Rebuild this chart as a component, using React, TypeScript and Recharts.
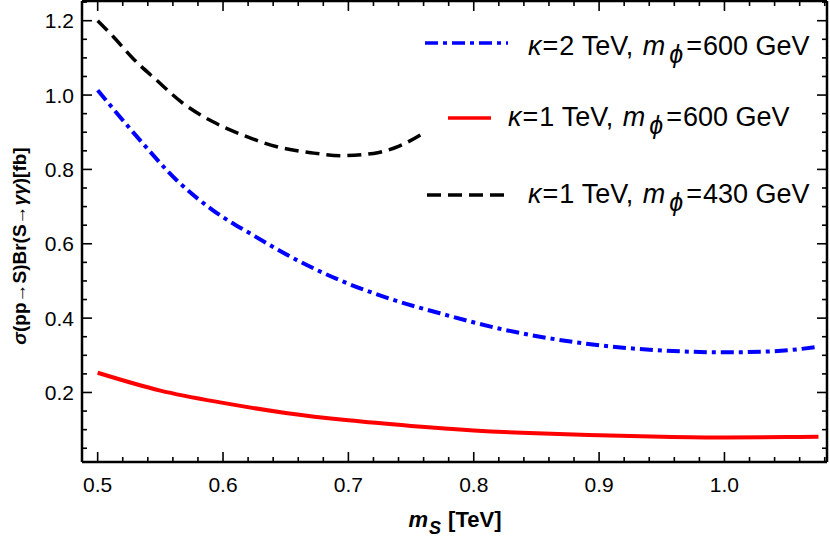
import React from "react";
import { LineChart, Line, XAxis, YAxis } from "recharts";

// m_S in TeV, cross section in fb
const blackX = [0.5, 0.5125, 0.528, 0.547, 0.568, 0.592, 0.619, 0.643, 0.67, 0.695, 0.72, 0.74, 0.761];
const blackY = [1.2, 1.157, 1.099, 1.04, 0.978, 0.928, 0.888, 0.861, 0.845, 0.837, 0.843, 0.862, 0.9];

const blueX = [0.5, 0.535, 0.563, 0.592, 0.624, 0.659, 0.696, 0.736, 0.773, 0.82, 0.888, 0.95, 1.0, 1.04, 1.075];
const blueY = [1.013, 0.874, 0.771, 0.69, 0.623, 0.556, 0.498, 0.449, 0.413, 0.372, 0.332, 0.313, 0.308, 0.311, 0.323];

const redX = [0.5, 0.55, 0.6, 0.65, 0.7, 0.75, 0.8, 0.85, 0.9, 0.95, 1.0, 1.05, 1.075];
const redY = [0.253, 0.205, 0.172, 0.145, 0.125, 0.11, 0.098, 0.09, 0.085, 0.081, 0.079, 0.08, 0.081];

const xTicks = [
  0.5, 0.52, 0.54, 0.56, 0.58, 0.6, 0.62, 0.64, 0.66, 0.68, 0.7, 0.72, 0.74, 0.76, 0.78, 0.8,
  0.82, 0.84, 0.86, 0.88, 0.9, 0.92, 0.94, 0.96, 0.98, 1.0, 1.02, 1.04, 1.06, 1.08,
];
const yTicks = [
  0.05, 0.1, 0.15, 0.2, 0.25, 0.3, 0.35, 0.4, 0.45, 0.5, 0.55, 0.6, 0.65, 0.7, 0.75, 0.8, 0.85,
  0.9, 0.95, 1.0, 1.05, 1.1, 1.15, 1.2, 1.25,
];

// legend entries: kappa [TeV], m_phi [GeV]
const legendKappa = ["2", "1", "1"];
const legendMphi = ["600", "600", "430"];
const legendColors = ["#0000ff", "#ff0000", "#000000"];
const legendDash = ["13 5 4 5", undefined, "14 7"];

const zip = (xs: number[], ys: number[]) => xs.map((x, i) => ({ x, y: ys[i] }));
const blackData = zip(blackX, blackY);
const blueData = zip(blueX, blueY);
const redData = zip(redX, redY);

const FONT = "'Liberation Sans', Arial, sans-serif";

const isMajorX = (v: number) => Math.abs(v * 10 - Math.round(v * 10)) < 1e-6;
const isMajorY = (v: number) => Math.abs(v * 5 - Math.round(v * 5)) < 1e-6;

function BottomTick(props: any) {
  const { x, y, payload } = props;
  const major = isMajorX(payload.value);
  return (
    <g>
      <line x1={x} x2={x} y1={y} y2={y - (major ? 10 : 5)} stroke="#000" strokeWidth={1.6} />
      {major && (
        <text x={x} y={y + 30} textAnchor="middle" fontSize={21} fontFamily={FONT} fill="#000">
          {payload.value.toFixed(1)}
        </text>
      )}
    </g>
  );
}

function TopTick(props: any) {
  const { x, y, payload } = props;
  const major = isMajorX(payload.value);
  return <line x1={x} x2={x} y1={y} y2={y + (major ? 10 : 5)} stroke="#000" strokeWidth={1.6} />;
}

function LeftTick(props: any) {
  const { x, y, payload } = props;
  const major = isMajorY(payload.value);
  return (
    <g>
      <line x1={x} x2={x + (major ? 10 : 5)} y1={y} y2={y} stroke="#000" strokeWidth={1.6} />
      {major && (
        <text x={x - 8} y={y + 7.5} textAnchor="end" fontSize={21} fontFamily={FONT} fill="#000">
          {payload.value.toFixed(1)}
        </text>
      )}
    </g>
  );
}

function RightTick(props: any) {
  const { x, y, payload } = props;
  const major = isMajorY(payload.value);
  return <line x1={x} x2={x - (major ? 10 : 5)} y1={y} y2={y} stroke="#000" strokeWidth={1.6} />;
}

// placement of the legend rows and axis titles
const rowLineY = [43, 118, 195];
const rowTextY = [55, 126, 203];
const rowLine = [
  [425, 508],
  [448, 491],
  [427, 508],
];
const rowText = [528, 508, 528];

function Overlay() {
  return (
    <svg width={830} height={547} style={{ position: "absolute", left: 0, top: 0, pointerEvents: "none" }}>
      {legendKappa.map((k, i) => (
        <g key={i}>
          <line
            x1={rowLine[i][0]}
            x2={rowLine[i][1]}
            y1={rowLineY[i]}
            y2={rowLineY[i]}
            stroke={legendColors[i]}
            strokeWidth={3.5}
            strokeDasharray={legendDash[i]}
          />
          <text x={rowText[i]} y={rowTextY[i]} fontSize={27} fontFamily={FONT} fill="#000">
            <tspan fontStyle="italic">κ</tspan>
            <tspan dx={1}>=</tspan>
            <tspan dx={1}>{`${k} TeV, `}</tspan>
            <tspan fontStyle="italic" dx={2}>m</tspan>
            <tspan fontStyle="italic" fontSize={25} dx={4} dy={8}>ϕ</tspan>
            <tspan dx={3} dy={-8}>=</tspan>
            <tspan dx={1}>{`${legendMphi[i]} GeV`}</tspan>
          </text>
        </g>
      ))}
      <text x={455} y={527} textAnchor="middle" fontSize={22} fontWeight="bold" fontFamily={FONT}>
        <tspan fontStyle="italic">m</tspan>
        <tspan fontStyle="italic" fontSize={18} dx={1} dy={7}>S</tspan>
        <tspan dx={7} dy={-7}>[TeV]</tspan>
      </text>
      <text
        x={19}
        y={246}
        textAnchor="middle"
        fontSize={19}
        fontWeight="bold"
        fontFamily={FONT}
        transform="rotate(-90 19 246)"
        dominantBaseline="central"
      >
        <tspan fontStyle="italic">σ</tspan>
        {"(pp→S)Br(S→"}
        <tspan fontStyle="italic">γγ</tspan>
        {")[fb]"}
      </text>
    </svg>
  );
}

export default function App() {
  return (
    <div style={{ position: "absolute", left: 0, top: 0, width: 830, height: 547, background: "#fff" }}>
      <LineChart width={830} height={547} margin={{ top: 0, right: 0, left: 0, bottom: 0 }}>
        <XAxis
          xAxisId="b"
          type="number"
          dataKey="x"
          domain={[0.4875, 1.0818]}
          allowDataOverflow
          ticks={xTicks}
          interval={0}
          tickSize={0}
          tickMargin={0}
          tick={<BottomTick />}
          axisLine={{ stroke: "#000", strokeWidth: 2.5 }}
          height={85}
        />
        <XAxis
          xAxisId="t"
          orientation="top"
          type="number"
          dataKey="x"
          domain={[0.4875, 1.0818]}
          allowDataOverflow
          ticks={xTicks}
          interval={0}
          tickSize={0}
          tickMargin={0}
          tick={<TopTick />}
          axisLine={{ stroke: "#000", strokeWidth: 2.5 }}
          height={1}
        />
        <YAxis
          yAxisId="l"
          type="number"
          domain={[0.013, 1.253]}
          allowDataOverflow
          ticks={yTicks}
          interval={0}
          tickSize={0}
          tickMargin={0}
          tick={<LeftTick />}
          axisLine={{ stroke: "#000", strokeWidth: 2.5 }}
          width={82}
        />
        <YAxis
          yAxisId="r"
          orientation="right"
          type="number"
          domain={[0.013, 1.253]}
          allowDataOverflow
          ticks={yTicks}
          interval={0}
          tickSize={0}
          tickMargin={0}
          tick={<RightTick />}
          axisLine={{ stroke: "#000", strokeWidth: 2.5 }}
          width={3}
        />
        <Line
          xAxisId="b"
          yAxisId="l"
          data={blueData}
          dataKey="y"
          type="monotone"
          stroke="#0000ff"
          strokeWidth={4}
          strokeDasharray="13 5 4 5"
          dot={false}
          isAnimationActive={false}
        />
        <Line
          xAxisId="b"
          yAxisId="l"
          data={redData}
          dataKey="y"
          type="monotone"
          stroke="#ff0000"
          strokeWidth={4}
          dot={false}
          isAnimationActive={false}
        />
        <Line
          xAxisId="b"
          yAxisId="l"
          data={blackData}
          dataKey="y"
          type="monotone"
          stroke="#000000"
          strokeWidth={3.5}
          strokeDasharray="14 7"
          dot={false}
          isAnimationActive={false}
        />
      </LineChart>
      <Overlay />
    </div>
  );
}
